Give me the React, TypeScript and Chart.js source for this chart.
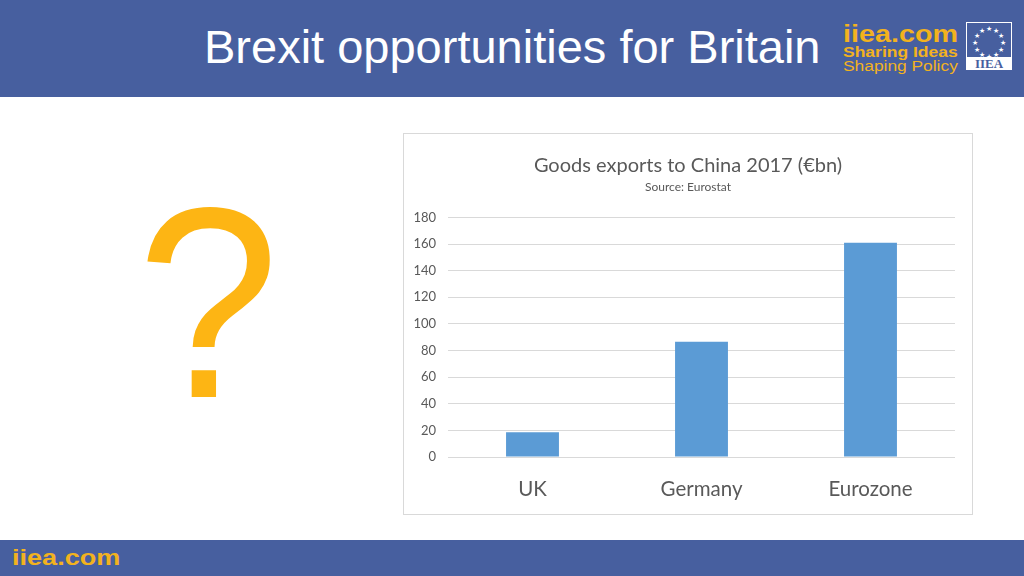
import React, { useEffect, useRef } from "react";
import { Chart, registerables } from "chart.js";

Chart.register(...registerables);

const categories: string[] = ["UK", "Germany", "Eurozone"];
const exportsBn: number[] = [18.5, 86.5, 161];
const yTicks: number[] = [0, 20, 40, 60, 80, 100, 120, 140, 160, 180];
const chartTitle = "Goods exports to China 2017 (€bn)";
const chartSubtitle = "Source: Eurostat";
const slideTitle = "Brexit opportunities for Britain";

const BLUE = "#475f9f";
const ORANGE = "#f2b21e";
const TEXT = "#595959";
const FONT = "Lato, 'Open Sans', sans-serif";

function ChartBox() {
  const ref = useRef<HTMLCanvasElement | null>(null);
  useEffect(() => {
    if (!ref.current) return;
    const chart = new Chart(ref.current, {
      type: "bar",
      data: {
        labels: categories,
        datasets: [
          {
            data: exportsBn,
            backgroundColor: "#5b9bd5",
            categoryPercentage: 1,
            barPercentage: 0.313,
          },
        ],
      },
      options: {
        animation: false,
        responsive: false,
        maintainAspectRatio: false,
        layout: { padding: { left: 0, right: 0, top: 0, bottom: 0 } },
        plugins: {
          legend: { display: false },
          tooltip: { enabled: false },
          title: {
            display: true,
            text: chartTitle,
            color: TEXT,
            font: { family: FONT, size: 20, weight: "normal" },
            padding: { top: 20, bottom: 2 },
          },
          subtitle: {
            display: true,
            text: chartSubtitle,
            color: TEXT,
            font: { family: FONT, size: 12, weight: "normal" },
            padding: { top: 0, bottom: 23 },
          },
        },
        scales: {
          x: {
            grid: { display: false, drawTicks: false },
            border: { display: false },
            ticks: {
              color: TEXT,
              font: { family: FONT, size: 20.5 },
              padding: 20,
            },
            afterFit: (scale: any) => {
              scale.height = 57;
            },
          },
          y: {
            min: 0,
            max: 180,
            afterBuildTicks: (scale: any) => {
              scale.ticks = yTicks.map((v) => ({ value: v }));
            },
            grid: { color: "#d9d9d9", lineWidth: 1, drawTicks: false },
            border: { display: false },
            ticks: {
              color: TEXT,
              font: { family: FONT, size: 13 },
              padding: 12,
            },
            afterFit: (scale: any) => {
              scale.width = 44;
            },
          },
          yRight: {
            position: "right",
            min: 0,
            max: 180,
            grid: { display: false, drawTicks: false },
            border: { display: false },
            ticks: { display: false },
            afterFit: (scale: any) => {
              scale.width = 17;
            },
          },
        },
      },
    } as any);
    return () => chart.destroy();
  }, []);
  return <canvas ref={ref} width={568} height={380} style={{ display: "block" }} />;
}

function Stars() {
  const stars = [];
  for (let i = 0; i < 12; i++) {
    const a = (i / 12) * Math.PI * 2;
    const x = 22 + Math.cos(a) * 14;
    const y = 20 + Math.sin(a) * 14;
    stars.push(
      <span
        key={i}
        style={{
          position: "absolute",
          left: x - 3,
          top: y - 4,
          fontSize: 7,
          lineHeight: "8px",
          color: "#ffffff",
        }}
      >
        ★
      </span>
    );
  }
  return <>{stars}</>;
}

const stretch = (sx: number): React.CSSProperties => ({
  transform: `scaleX(${sx})`,
  transformOrigin: "left center",
  whiteSpace: "nowrap",
});

export default function App() {
  return (
    <div
      style={{
        position: "fixed",
        left: 0,
        top: 0,
        width: 1024,
        height: 576,
        background: "#ffffff",
        overflow: "hidden",
        fontFamily: "'Liberation Sans', Arial, sans-serif",
      }}
    >
      <div style={{ position: "absolute", left: 0, top: 0, width: 1024, height: 97, background: BLUE }} />
      <div
        style={{
          position: "absolute",
          left: 204,
          top: 20,
          fontSize: 47,
          lineHeight: "54px",
          color: "#ffffff",
          whiteSpace: "nowrap",
        }}
      >
        {slideTitle}
      </div>
      <div style={{ position: "absolute", left: 843, top: 22, color: ORANGE }}>
        <div style={{ ...stretch(1.25), fontSize: 23, fontWeight: "bold", lineHeight: "24px" }}>iiea.com</div>
        <div style={{ ...stretch(1.25), fontSize: 14, fontWeight: "bold", lineHeight: "13px" }}>Sharing Ideas</div>
        <div style={{ ...stretch(1.24), fontSize: 14, lineHeight: "14px" }}>Shaping Policy</div>
      </div>
      <div
        style={{
          position: "absolute",
          left: 966,
          top: 22,
          width: 46,
          height: 48,
          border: "1px solid #ffffff",
          boxSizing: "border-box",
        }}
      >
        <Stars />
        <div
          style={{
            position: "absolute",
            left: 0,
            top: 34,
            width: 44,
            height: 13,
            background: "#ffffff",
            color: BLUE,
            fontFamily: "'Liberation Serif', serif",
            fontWeight: "bold",
            fontSize: 13,
            lineHeight: "13px",
            textAlign: "center",
          }}
        >
          IIEA
        </div>
      </div>

      <div
        style={{
          position: "absolute",
          left: 137,
          top: 167,
          fontSize: 272,
          lineHeight: "272px",
          color: "#fdb514",
          ...stretch(0.94),
        }}
      >
        ?
      </div>

      <div
        style={{
          position: "absolute",
          left: 403,
          top: 133,
          width: 570,
          height: 382,
          border: "1px solid #d9d9d9",
          boxSizing: "border-box",
          background: "#ffffff",
        }}
      >
        <ChartBox />
      </div>

      <div style={{ position: "absolute", left: 0, top: 540, width: 1024, height: 36, background: BLUE }} />
      <div
        style={{
          position: "absolute",
          left: 12,
          top: 544,
          fontSize: 22,
          fontWeight: "bold",
          lineHeight: "28px",
          color: ORANGE,
          ...stretch(1.23),
        }}
      >
        iiea.com
      </div>
    </div>
  );
}
